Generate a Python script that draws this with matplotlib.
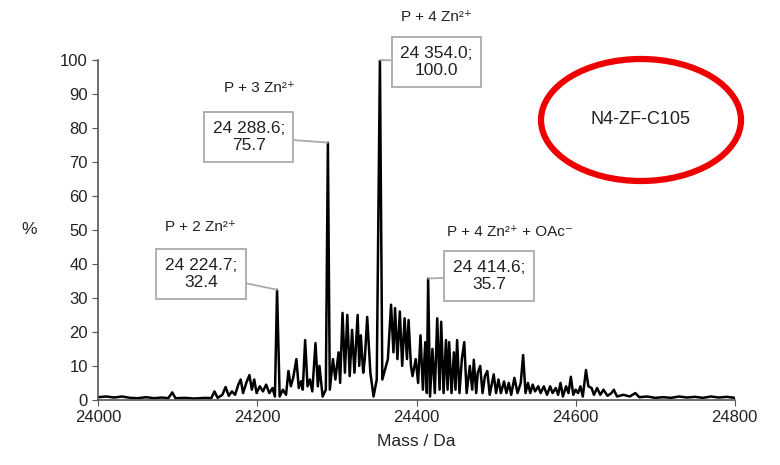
import matplotlib
matplotlib.use('Agg')
import matplotlib.pyplot as plt
from matplotlib.patches import Ellipse

plt.rcParams['font.family'] = ['Liberation Sans', 'DejaVu Sans']

# spectrum (mass in Da, relative intensity in %)
mass = [
    24000, 24010, 24020, 24030, 24040, 24050, 24060, 24070, 24080, 24088,
    24093, 24097, 24110, 24120, 24135, 24142, 24146, 24150, 24156, 24160,
    24164, 24168, 24172, 24176, 24179, 24182, 24186, 24190, 24193, 24196,
    24199, 24203, 24207, 24211, 24215, 24219, 24222, 24224.7, 24228, 24232,
    24236, 24239, 24242, 24245, 24249, 24252, 24255, 24257, 24260, 24263,
    24266, 24269, 24273, 24276, 24278, 24282, 24286, 24288.6, 24291, 24295,
    24298, 24302, 24304, 24307, 24310, 24313, 24316, 24319, 24322, 24326,
    24328, 24330, 24333, 24335, 24338, 24342, 24346, 24350, 24354, 24357,
    24361, 24364, 24368, 24371, 24373, 24376, 24379, 24382, 24385, 24388,
    24390, 24393, 24395, 24399, 24402, 24405, 24408, 24411, 24413, 24414.6,
    24417, 24420, 24423, 24426, 24429, 24431, 24434, 24437, 24439, 24441,
    24444, 24447, 24449, 24451, 24454, 24457, 24460, 24463, 24467, 24470,
    24472, 24475, 24477, 24480, 24483, 24486, 24489, 24492, 24497, 24500,
    24503, 24506, 24510, 24513, 24516, 24519, 24523, 24527, 24531, 24534,
    24537, 24540, 24543, 24546, 24549, 24553, 24556, 24560, 24564, 24568,
    24571, 24575, 24578, 24581, 24584, 24588, 24591, 24594, 24597, 24600,
    24603, 24606, 24609, 24613, 24616, 24620, 24623, 24627, 24631, 24635,
    24640, 24645, 24648, 24652, 24660, 24668, 24675, 24680, 24690, 24700,
    24710, 24720, 24730, 24740, 24750, 24760, 24770, 24780, 24790, 24800,
]
intensity = [
    0.8, 1.0, 0.7, 1.0, 0.6, 0.5, 0.8, 0.5, 0.7, 0.5,
    2.2, 0.5, 0.6, 0.4, 0.6, 0.5, 2.5, 0.6, 1.5, 3.8,
    1.2, 2.5, 1.5, 4.5, 6.0, 2.0, 5.0, 7.3, 3.0, 6.0,
    2.0, 4.0, 2.5, 4.5, 2.0, 3.5, 1.0, 32.4, 1.0, 3.0,
    1.5, 8.5, 4.0, 6.5, 12.0, 3.5, 5.5, 3.0, 17.6, 4.0,
    6.0, 2.5, 16.7, 4.0, 10.0, 1.0, 3.0, 75.7, 3.0, 12.0,
    6.0, 14.0, 5.0, 25.6, 8.0, 25.0, 7.0, 20.6, 8.0, 25.0,
    10.0, 19.0, 8.0, 12.0, 24.4, 8.0, 1.0, 6.0, 100.0, 6.0,
    9.4, 12.0, 28.0, 14.0, 27.0, 12.0, 26.0, 10.0, 24.0, 12.0,
    23.5, 10.0, 7.0, 12.0, 5.0, 19.0, 3.0, 17.0, 2.0, 35.7,
    1.0, 15.0, 2.0, 24.0, 3.0, 23.0, 2.0, 17.6, 3.0, 17.0,
    2.0, 14.0, 3.0, 17.6, 2.0, 12.0, 17.0, 2.0, 10.0, 3.0,
    11.8, 2.0, 8.0, 10.0, 2.0, 7.0, 8.5, 1.5, 7.5, 2.0,
    6.0, 2.0, 5.4, 2.0, 5.0, 1.5, 6.5, 2.0, 5.0, 13.2,
    2.0, 5.0, 2.0, 4.5, 2.5, 4.0, 2.0, 4.0, 1.5, 4.0,
    2.0, 3.5, 1.5, 5.0, 1.0, 4.0, 2.0, 6.8, 1.5, 3.0,
    2.0, 4.0, 1.0, 8.8, 4.0, 3.5, 1.5, 3.5, 1.5, 3.0,
    1.2, 2.0, 3.0, 1.0, 1.5, 1.0, 2.0, 0.8, 1.0, 0.6,
    0.8, 0.6, 1.0, 0.7, 0.9, 0.6, 1.0, 0.7, 0.9, 0.6,
]

# labelled peaks
peak_mass = [24224.7, 24288.6, 24354.0, 24414.6]
peak_int = [32.4, 75.7, 100.0, 35.7]
peak_names = ['P + 2 Zn²⁺', 'P + 3 Zn²⁺', 'P + 4 Zn²⁺', 'P + 4 Zn²⁺ + OAc⁻']
box_pos = [(24129, 37.1), (24189, 77.4), (24425, 99.4), (24491, 36.5)]
name_pos = [(24128, 50.9), (24203, 91.8), (24425, 112.6), (24517, 49.4)]

fig = plt.figure(figsize=(7.8, 4.65), dpi=100)
fig.patch.set_facecolor('white')
ax = fig.add_axes([0.126, 0.140, 0.816, 0.731])

ax.plot(mass, intensity, color='black', linewidth=1.8)

ax.set_xlim(24000, 24800)
ax.set_ylim(0, 100)
ax.set_xticks(range(24000, 24801, 200))
ax.set_yticks(range(0, 101, 10))

axis_color = '#555555'
for side in ['top', 'right']:
    ax.spines[side].set_visible(False)
for side in ['left', 'bottom']:
    ax.spines[side].set_color(axis_color)
    ax.spines[side].set_linewidth(1.2)
ax.tick_params(direction='out', length=4, color=axis_color, labelsize=12,
               labelcolor='#222222')
ax.set_xlabel('Mass / Da', fontsize=12.5, color='#222222', labelpad=6)
ax.set_ylabel('%', fontsize=12.5, color='#222222', rotation=0, labelpad=22, va='center')

# callout boxes
for i in range(len(peak_mass)):
    label = f'{peak_mass[i]:,.1f};\n{peak_int[i]:.1f}'.replace(',', ' ')
    ax.annotate(label, xy=(peak_mass[i], peak_int[i]), xytext=box_pos[i],
                textcoords='data', ha='center', va='center', fontsize=12.5,
                color='#222222', linespacing=1.2, annotation_clip=False,
                bbox=dict(boxstyle='square,pad=0.5', fc='white', ec='#aaaaaa', lw=1.3),
                arrowprops=dict(arrowstyle='-', color='#aaaaaa', lw=1.3,
                                shrinkA=0, shrinkB=0))
    ax.text(name_pos[i][0], name_pos[i][1], peak_names[i], ha='center', va='center',
            fontsize=11, color='#222222', clip_on=False)

# red ellipse with sample name
ell = Ellipse((641, 345), 200, 122, transform=None, fill=False,
              edgecolor='#ee0000', linewidth=4.5)
fig.patches.append(ell)
fig.text(641 / 780, 1 - 120 / 465, 'N4-ZF-C105', ha='center', va='center',
         fontsize=13, color='#222222')

fig.savefig('out.png', dpi=100, facecolor='white')
